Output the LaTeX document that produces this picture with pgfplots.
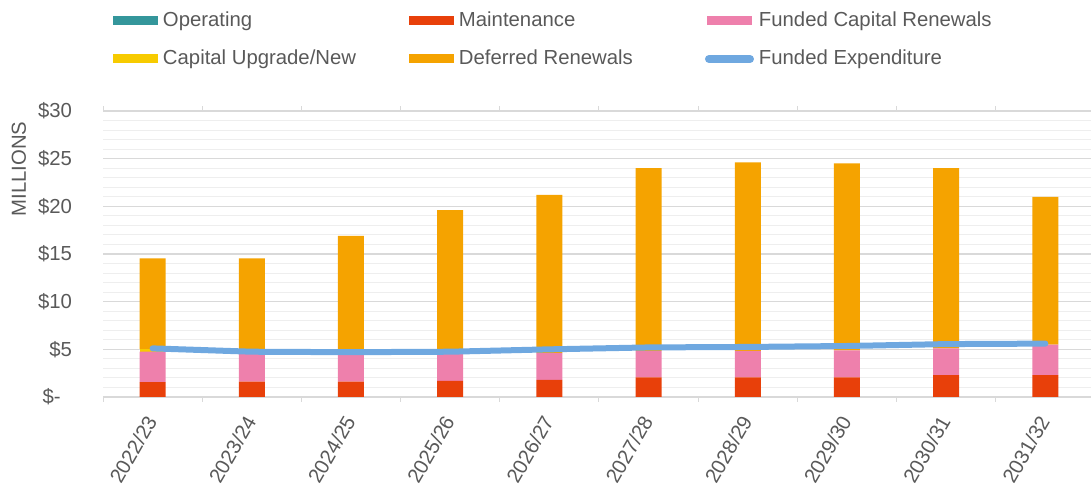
\documentclass[border=0pt]{standalone}
\usepackage{pgfplots}
\pgfplotsset{compat=1.18}
\usepackage{fontspec}
\setmainfont{Liberation Sans}
\definecolor{cOp}{RGB}{52,150,155}
\definecolor{cMa}{RGB}{232,64,10}
\definecolor{cFc}{RGB}{238,128,172}
\definecolor{cCu}{RGB}{247,203,0}
\definecolor{cDe}{RGB}{245,163,0}
\definecolor{cLn}{RGB}{111,168,224}
\definecolor{cTx}{RGB}{89,89,89}
\definecolor{cGrMaj}{RGB}{217,217,217}
\definecolor{cGrMin}{RGB}{238,238,238}
\newcommand{\lt}[1]{\makebox[122bp][l]{#1}}
\begin{document}
\begin{tikzpicture}[font=\fontsize{10.2}{12}\selectfont]
\useasboundingbox (-51.5bp,-47.5bp) rectangle (494bp,198.5bp);
\begin{axis}[
  at={(0,0)}, anchor=south west,
  scale only axis, width=494bp, height=143bp,
  xmin=-0.5, xmax=9.46, ymin=0, ymax=30,
  ybar stacked, bar width=13bp,
  axis line style={draw=none},
  xtick={0,...,9},
  xticklabels={2022/23,2023/24,2024/25,2025/26,2026/27,2027/28,2028/29,2029/30,2030/31,2031/32},
  minor xtick={-0.5,0.5,...,9.5},
  ytick={0,5,...,30},
  yticklabels={\$-\hphantom{0},\$5,\$10,\$15,\$20,\$25,\$30},
  minor ytick={0,1,...,30},
  ymajorgrids, yminorgrids,
  major grid style={cGrMaj, line width=0.6bp},
  minor grid style={cGrMin, line width=0.5bp},
  major tick length=0pt,
  minor tick length=2.5bp,
  tick align=outside,
  minor x tick style={cGrMaj, line width=0.5bp},
  minor y tick style={draw=none},
  tick label style={text=cTx},
  yticklabel style={xshift=-12bp},
  xticklabel style={rotate=60, anchor=east, xshift=-5.7bp, yshift=-4.7bp},
  every axis y label/.style={at={(rel axis cs:0,0.797)}, xshift=-42bp, rotate=90, anchor=center, text=cTx},
  ylabel={MILLIONS},
  legend columns=3,
  legend style={draw=none, fill=none, inner sep=0pt, outer sep=0pt,
    at={(rel axis cs:0.0101,1.2483)}, anchor=west,
    /tikz/column sep=0pt,
    /tikz/every odd column/.style={column sep=1.5bp},
    /tikz/row sep=7.5bp,
    nodes={inner sep=1bp, text height=7.5bp, text depth=2bp, text=cTx}},
  area legend,
  legend image code/.code={\fill[#1,draw=none] (0bp,-2.25bp) rectangle (22.5bp,2.25bp);},
]
\addplot[fill=cOp, draw=none] coordinates {(0,0) (1,0) (2,0) (3,0) (4,0) (5,0) (6,0) (7,0) (8,0) (9,0)};
\addlegendentry{\lt{Operating}}
\addplot[fill=cMa, draw=none] coordinates {(0,1.55) (1,1.6) (2,1.6) (3,1.7) (4,1.8) (5,2.05) (6,2.05) (7,2.05) (8,2.3) (9,2.3)};
\addlegendentry{\lt{Maintenance}}
\addplot[fill=cFc, draw=none] coordinates {(0,3.2) (1,3.0) (2,2.9) (3,2.8) (4,2.8) (5,2.8) (6,2.8) (7,2.85) (8,2.8) (9,3.2)};
\addlegendentry{\lt{Funded Capital Renewals}}
\addplot[fill=cCu, draw=none] coordinates {(0,0.3) (1,0) (2,0) (3,0) (4,0) (5,0) (6,0) (7,0) (8,0) (9,0)};
\addlegendentry{\lt{Capital Upgrade/New}}
\addplot[fill=cDe, draw=none] coordinates {(0,9.5) (1,9.95) (2,12.4) (3,15.1) (4,16.6) (5,19.15) (6,19.75) (7,19.6) (8,18.9) (9,15.5)};
\addlegendentry{\lt{Deferred Renewals}}
\addlegendimage{legend image code/.code={\draw[cLn, line width=4bp, line cap=round] (1bp,0bp) -- (21.5bp,0bp);}}
\addlegendentry{\lt{Funded Expenditure}}
\end{axis}
\begin{axis}[
  at={(0,0)}, anchor=south west,
  scale only axis, width=494bp, height=143bp,
  xmin=-0.5, xmax=9.46, ymin=0, ymax=30,
  hide axis,
]
\addplot[cLn, line width=3bp, line cap=round, line join=round, mark=none] coordinates {(0,5.1) (1,4.75) (2,4.7) (3,4.75) (4,5.0) (5,5.2) (6,5.25) (7,5.35) (8,5.55) (9,5.6)};
\end{axis}
\end{tikzpicture}
\end{document}
